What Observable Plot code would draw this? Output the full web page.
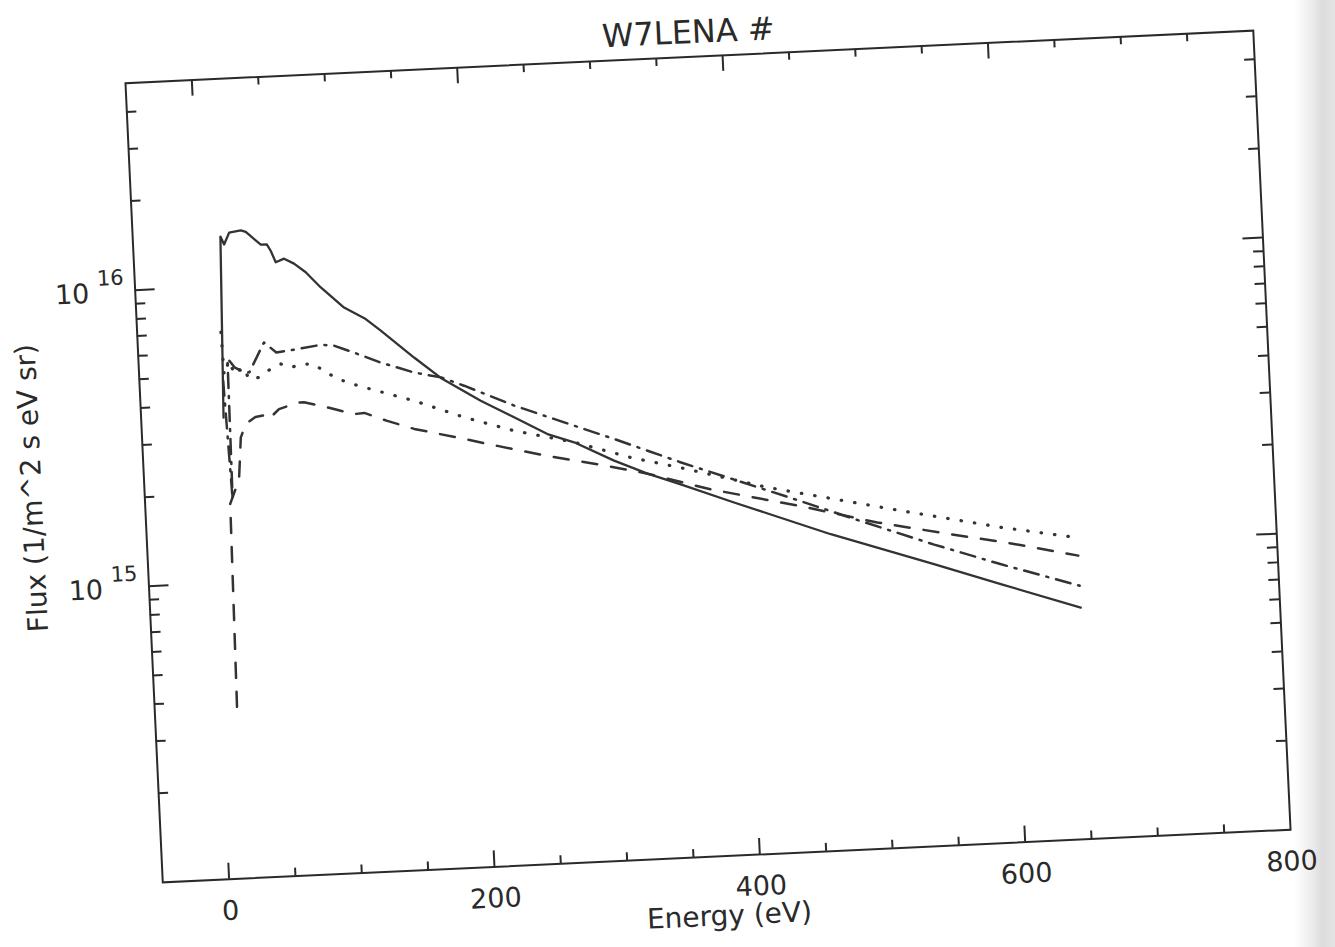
<!DOCTYPE html>
<html>
<head>
<meta charset="utf-8">
<script src="https://cdn.jsdelivr.net/npm/d3@7"></script>
<script src="https://cdn.jsdelivr.net/npm/@observablehq/plot@0.6"></script>
<style>
  html, body { margin: 0; padding: 0; width: 1335px; height: 947px; overflow: hidden; }
  body { background: linear-gradient(to right, #ffffff 0px, #ffffff 1294px, #ececec 1312px, #dcdcdc 1322px, #e4e4e4 1335px); position: relative; }
  #wrap { position: absolute; left: -27.25px; top: -24.3px; width: 1359px; height: 980px;
          transform-origin: 734.5px 480px; transform: rotate(-2.67deg); }
  #wrap svg { overflow: visible; }
</style>
</head>
<body>
<div id="wrap"></div>
<script>
// ---- chart text ----
const title = "W7LENA #";
const xLabel = "Energy (eV)";
const yLabel = "Flux (1/m^2 s eV sr)";

// ---- axis ticks ----
const xTickLabels = [0, 200, 400, 600, 800];
const xMajorTicks = [0, 200, 400, 600];
const xMinorTicks = [50, 100, 150, 250, 300, 350, 450, 500, 550, 650, 700, 750];
const yTickLabels = [1e15, 1e16];
const yMajorTicks = [1e15, 1e16];
const yMinorTicks = [2e14, 3e14, 4e14, 5e14, 6e14, 7e14, 8e14, 9e14,
                     2e15, 3e15, 4e15, 5e15, 6e15, 7e15, 8e15, 9e15,
                     2e16, 3e16, 4e16];

// ---- series (Energy in eV, Flux) ----
const solidE = [12, 16, 18.5, 22.7, 31.5, 35.2, 40.1, 46.1, 50.6, 53.4, 56.7, 63.1, 70.4, 78.9, 89.7, 106.5, 122.4, 133.3, 157.4, 176.8, 206, 230.5, 255, 274.8, 304.2, 328.9, 353.5, 393, 464.6, 541.2, 590.7, 650];
const solidF = [3.6e15, 1.47e16, 1.38e16, 1.51e16, 1.53e16, 1.51e16, 1.44e16, 1.36e16, 1.36e16, 1.29e16, 1.18e16, 1.21e16, 1.16e16, 1.08e16, 9.55e15, 8.1e15, 7.35e15, 6.68e15, 5.36e15, 4.53e15, 3.74e15, 3.25e15, 2.82e15, 2.62e15, 2.24e15, 2.0e15, 1.82e15, 1.55e15, 1.17e15, 8.94e14, 7.47e14, 6.05e14];

const dashDotE = [13, 16, 17, 22, 27, 33, 41, 45, 54, 70, 88, 98, 112, 132, 157, 177, 194, 231, 268, 305, 354, 443, 480, 542, 591, 650];
const dashDotF = [4.8e15, 1.9e15, 5.7e15, 5.3e15, 5.15e15, 5.07e15, 5.9e15, 6.36e15, 5.86e15, 5.97e15, 6.12e15, 6.04e15, 5.7e15, 5.22e15, 4.77e15, 4.55e15, 4.23e15, 3.56e15, 3.07e15, 2.65e15, 2.16e15, 1.53e15, 1.32e15, 1.04e15, 8.73e14, 7.17e14];

const dottedE = [13, 14, 18, 22, 28, 33, 40, 47, 57, 64, 74, 81, 89, 99, 114, 156, 193, 230, 275, 317, 354, 419, 518, 593, 651];
const dottedF = [7.0e15, 5.0e15, 5.6e15, 5.0e15, 5.3e15, 4.8e15, 4.86e15, 5.1e15, 5.35e15, 5.19e15, 5.3e15, 5.29e15, 5.0e15, 4.67e15, 4.4e15, 3.83e15, 3.31e15, 2.93e15, 2.62e15, 2.28e15, 2.07e15, 1.72e15, 1.37e15, 1.16e15, 1.04e15];

const dashedE = [12, 14, 21.5, 24.3, 28.5, 36, 44, 46.5, 54, 68, 73, 85.5, 95.4, 110, 118, 135, 155, 192, 217, 254, 292, 329, 376, 443, 500, 555, 600, 650];
const dashedF = [3.8e14, 1.84e15, 2.22e15, 3.07e15, 3.4e15, 3.58e15, 3.62e15, 3.52e15, 3.77e15, 3.94e15, 3.94e15, 3.81e15, 3.7e15, 3.53e15, 3.55e15, 3.31e15, 3.08e15, 2.8e15, 2.62e15, 2.38e15, 2.19e15, 2.0e15, 1.73e15, 1.47e15, 1.26e15, 1.12e15, 1.02e15, 9.06e14];

const pts = (E, F) => E.map((e, i) => ({E: e, F: F[i]}));

const FRAME_W = 1129, FRAME_H = 800;
const ink = "#2a2a2a";
const lineInk = "#333";
const font = "DejaVu Sans";

const plot = Plot.plot({
  width: 1359,
  height: 980,
  marginLeft: 170,
  marginRight: 60,
  marginTop: 80,
  marginBottom: 100,
  x: {domain: [-50, 800], axis: null},
  y: {type: "log", domain: [1e14, 5e16], axis: null},
  style: {fontFamily: font, background: "transparent", color: ink},
  marks: [
    Plot.frame({stroke: ink, strokeWidth: 2}),
    // bottom & top ticks
    Plot.tickX(xMajorTicks, {x: d => d, insetTop: FRAME_H - 16, stroke: ink, strokeWidth: 2}),
    Plot.tickX(xMinorTicks, {x: d => d, insetTop: FRAME_H - 8, stroke: ink, strokeWidth: 2}),
    Plot.tickX(xMajorTicks, {x: d => d, insetBottom: FRAME_H - 16, stroke: ink, strokeWidth: 2}),
    Plot.tickX(xMinorTicks, {x: d => d, insetBottom: FRAME_H - 8, stroke: ink, strokeWidth: 2}),
    // left & right ticks
    Plot.tickY(yMajorTicks, {y: d => d, insetRight: FRAME_W - 20, stroke: ink, strokeWidth: 2}),
    Plot.tickY(yMinorTicks, {y: d => d, insetRight: FRAME_W - 10, stroke: ink, strokeWidth: 2}),
    Plot.tickY(yMajorTicks, {y: d => d, insetLeft: FRAME_W - 20, stroke: ink, strokeWidth: 2}),
    Plot.tickY(yMinorTicks, {y: d => d, insetLeft: FRAME_W - 10, stroke: ink, strokeWidth: 2}),
    // x tick labels
    Plot.text(xTickLabels, {x: d => d, text: d => String(d), frameAnchor: "bottom", dy: 32,
      lineAnchor: "middle", fontSize: 27, fill: ink}),
    // y tick labels 10^n
    Plot.text(yTickLabels, {y: d => d, text: () => "10", frameAnchor: "left", textAnchor: "end",
      dx: -46, dy: 2, lineAnchor: "middle", fontSize: 27, fill: ink}),
    Plot.text(yTickLabels, {y: d => d, text: d => String(Math.round(Math.log10(d))), frameAnchor: "left",
      textAnchor: "end", dx: -11, dy: -13, lineAnchor: "middle", fontSize: 21, fill: ink}),
    // axis labels & title
    Plot.text([xLabel], {text: d => d, frameAnchor: "bottom", dy: 60, textAnchor: "middle", lineAnchor: "middle", fontSize: 28, fill: ink}),
    Plot.text([yLabel], {text: d => d, frameAnchor: "left", dx: -112, rotate: -90, textAnchor: "middle", lineAnchor: "middle", fontSize: 28, fill: ink}),
    Plot.text([title], {text: d => d, frameAnchor: "top", dy: -24, textAnchor: "middle", lineAnchor: "middle", fontSize: 32, fill: ink}),
    // series
    Plot.line(pts(dashedE, dashedF), {x: "E", y: "F", stroke: lineInk, strokeWidth: 2.5, strokeDasharray: "15,14"}),
    Plot.line(pts(dottedE, dottedF), {x: "E", y: "F", stroke: lineInk, strokeWidth: 3.2, strokeDasharray: "0.5,13", strokeLinecap: "round"}),
    Plot.line(pts(dashDotE, dashDotF), {x: "E", y: "F", stroke: lineInk, strokeWidth: 2.5, strokeDasharray: "15,8,2,8"}),
    Plot.line(pts(solidE, solidF), {x: "E", y: "F", stroke: lineInk, strokeWidth: 2.3})
  ]
});
document.getElementById("wrap").appendChild(plot);
</script>
</body>
</html>
